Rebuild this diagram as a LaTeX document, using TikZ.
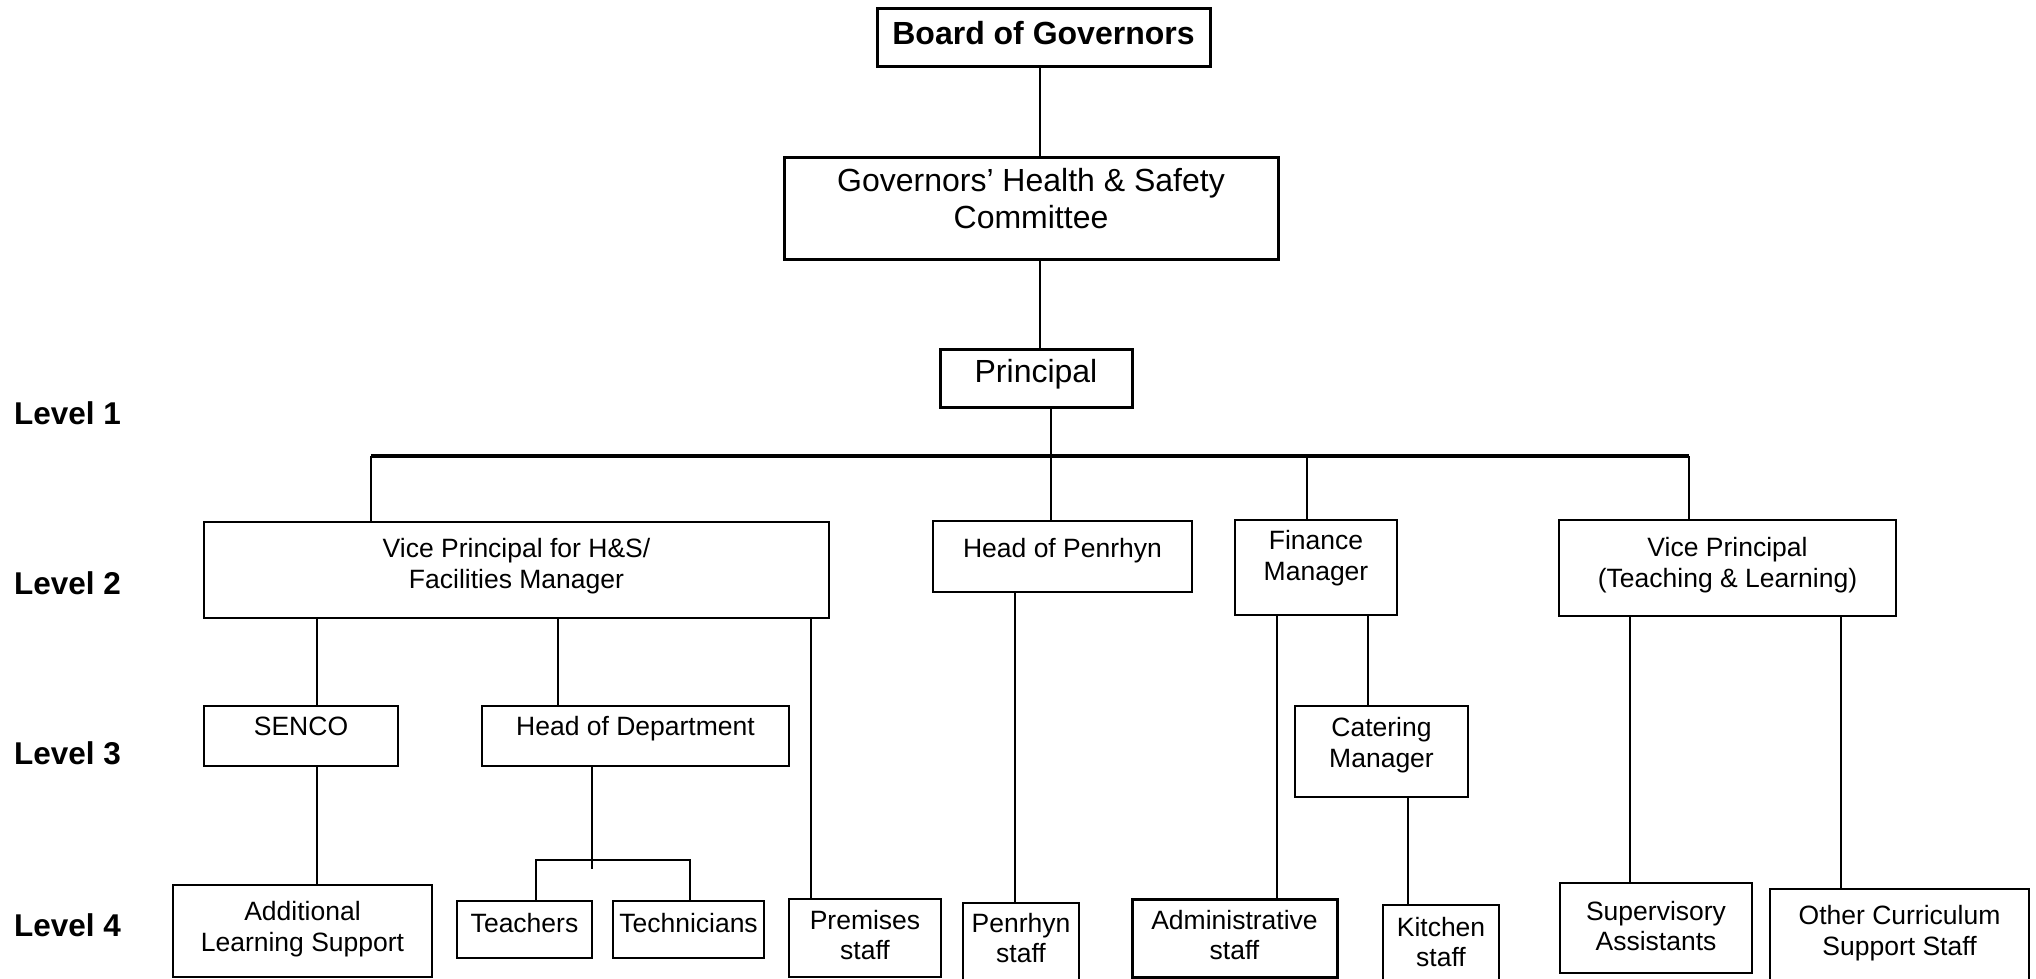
\documentclass[tikz,border=0pt]{standalone}
\usepackage{fontspec}
\setmainfont{Liberation Sans}
\newcommand\bigtxt{\fontsize{32}{37}\selectfont}
\newcommand\smtxt{\fontsize{26.5}{30.5}\selectfont}
\newcommand\lvltxt{\fontsize{31.5}{36}\selectfont\bfseries}
\begin{document}
\begin{tikzpicture}[x=1pt,y=-1pt,
  box/.style={draw, rectangle, inner sep=0pt, line width=#1},
  box/.default=2.5,
  bigt/.style={font=\bigtxt, align=center, inner sep=0pt},
  bigb/.style={font=\bigtxt\bfseries, align=center, inner sep=0pt},
  smt/.style={font=\smtxt, align=center, inner sep=0pt},
  lvl/.style={font=\lvltxt, anchor=west, inner sep=0pt},
  conn/.style={line width=2.4},
  thinl/.style={line width=1.7},
  busline/.style={line width=3.2}]
\useasboundingbox (0,0) rectangle (2036,979);
\clip (0,0) rectangle (2036,979);
\fill[white] (0,0) rectangle (2036,979);

% level labels
\node[lvl] (l1) at (14,413) {Level 1};
\node[lvl] (l2) at (14,583) {Level 2};
\node[lvl] (l3) at (14,753) {Level 3};
\node[lvl] (l4) at (14,925) {Level 4};

% boxes
\node[box=3, minimum width=333, minimum height=58] (board) at (1043.5,38) {};
\node[bigb] (board-t) at (1043.5,33) {Board of Governors};
\node[box=3, minimum width=494, minimum height=102] (comm) at (1031,208) {};
\node[bigt] (comm-t) at (1031,199) {Governors’ Health \& Safety\\Committee};
\node[box=3, minimum width=192, minimum height=58] (prin) at (1036,378) {};
\node[bigt] (prin-t) at (1036,374) {Principal};

\node[box=1.8, minimum width=625, minimum height=96] (vph) at (516.5,570) {};
\node[smt] (vph-t) at (516.5,566) {Vice Principal for H\&S/\\Facilities Manager};
\node[box=1.8, minimum width=259, minimum height=71] (hop) at (1062.5,556.5) {};
\node[smt] (hop-t) at (1062.5,551) {Head of Penrhyn};
\node[box=2.6, minimum width=162, minimum height=95] (fin) at (1316,567.5) {};
\node[smt] (fin-t) at (1316,558) {Finance\\Manager};
\node[box=2.6, minimum width=337, minimum height=96] (vptl) at (1727.5,568) {};
\node[smt] (vptl-t) at (1727.5,565) {Vice Principal\\(Teaching \& Learning)};

\node[box=2.6, minimum width=194, minimum height=60] (senco) at (301,736) {};
\node[smt] (senco-t) at (301,726) {SENCO};
\node[box=2.6, minimum width=307, minimum height=60] (hod) at (635.5,736) {};
\node[smt] (hod-t) at (635.5,729) {Head of Department};
\node[box=2.6, minimum width=173, minimum height=91] (cat) at (1381.5,751.5) {};
\node[smt] (cat-t) at (1381.5,745) {Catering\\Manager};

\node[box=1.6, minimum width=259, minimum height=92] (als) at (302.5,931) {};
\node[smt] (als-t) at (302.5,929) {Additional\\Learning Support};
\node[box=2.8, minimum width=135, minimum height=57] (teach) at (524.5,929.5) {};
\node[smt] (teach-t) at (524.5,923) {Teachers};
\node[box=2.8, minimum width=151, minimum height=57] (tech) at (688.5,929.5) {};
\node[smt] (tech-t) at (688.5,923) {Technicians};
\node[box=2.8, minimum width=152, minimum height=78] (prem) at (865,938) {};
\node[smt] (prem-t) at (865,935) {Premises\\staff};
\node[box=2, minimum width=116, minimum height=97] (pens) at (1021,951.5) {};
\node[smt] (pens-t) at (1021,938) {Penrhyn\\staff};
\node[box=3, minimum width=205, minimum height=78] (adm) at (1234.5,938) {};
\node[smt] (adm-t) at (1234.5,935) {Administrative\\staff};
\node[box=2.6, minimum width=116, minimum height=95] (kit) at (1441,952.5) {};
\node[smt] (kit-t) at (1441,942) {Kitchen\\staff};
\node[box=2, minimum width=192, minimum height=90] (sup) at (1656,928) {};
\node[smt] (sup-t) at (1656,926) {Supervisory\\Assistants};
\node[box=2.6, minimum width=259, minimum height=111] (ocs) at (1899.5,944.5) {};
\node[smt] (ocs-t) at (1899.5,933) {Other Curriculum\\Support Staff};

% connector positions
\coordinate (xBC) at (1040,0);
\coordinate (xPr) at (1051,0);
\coordinate (busL) at (371,456);
\coordinate (busR) at (1689,456);
\coordinate (xFin) at (1307,458);
\coordinate (xSen) at (317,0);
\coordinate (xHod) at (558,0);
\coordinate (xPrem) at (811,0);
\coordinate (xHodD) at (592,0);
\coordinate (hodEnd) at (592,869);
\coordinate (tL) at (536,860);
\coordinate (tR) at (690,860);
\coordinate (xPen) at (1015,0);
\coordinate (xAdm) at (1277,0);
\coordinate (xCat) at (1368,0);
\coordinate (xKit) at (1408,0);
\coordinate (xSup) at (1630,0);
\coordinate (xOcs) at (1841,0);

% connectors
\draw[conn] (board.south -| xBC) -- (comm.north -| xBC);
\draw[conn] (comm.south -| xBC) -- (prin.north -| xBC);
\draw[conn] (prin.south -| xPr) -- (hop.north -| xPr);
\draw[busline] (busL) -- (busR);
\draw[conn] (busL) -- (vph.north -| busL);
\draw[thinl] (busR) -- (vptl.north -| busR);
\draw[conn] (xFin) -- (fin.north -| xFin);
\draw[thinl] (vph.south -| xSen) -- (senco.north -| xSen);
\draw[conn] (vph.south -| xHod) -- (hod.north -| xHod);
\draw[conn] (vph.south -| xPrem) -- (prem.north -| xPrem);
\draw[conn] (senco.south -| xSen) -- (als.north -| xSen);
\draw[conn] (hod.south -| xHodD) -- (hodEnd);
\draw[conn] (teach.north -| tL) -- (tL) -- (tR) -- (tech.north -| tR);
\draw[conn] (hop.south -| xPen) -- (pens.north -| xPen);
\draw[conn] (fin.south -| xAdm) -- (adm.north -| xAdm);
\draw[conn] (fin.south -| xCat) -- (cat.north -| xCat);
\draw[conn] (cat.south -| xKit) -- (kit.north -| xKit);
\draw[thinl] (vptl.south -| xSup) -- (sup.north -| xSup);
\draw[thinl] (vptl.south -| xOcs) -- (ocs.north -| xOcs);
\end{tikzpicture}
\end{document}
